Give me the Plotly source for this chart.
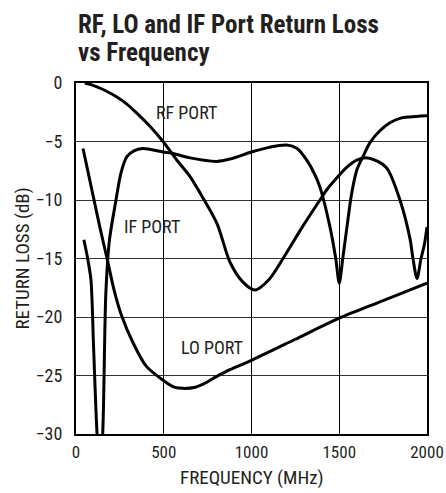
import plotly.graph_objects as go

# ---- data ----
rf_freq = [50, 97, 160, 233, 290, 348, 421, 496, 575, 650, 707, 803, 877, 950, 1020,
           1100, 1180, 1290, 1390, 1430, 1544, 1600, 1658, 1720, 1772, 1846, 1903,
           1920, 1943, 1966, 1985, 2000]
rf_db = [0.0, -0.2, -0.6, -1.2, -1.8, -2.6, -3.7, -5.0, -6.6, -8.0, -9.4, -12.0, -15.3,
         -17.0, -17.7, -16.8, -15.0, -12.3, -10.0, -9.1, -7.2, -6.6, -6.4, -6.7, -7.3,
         -10.0, -13.3, -15.0, -16.7, -15.0, -13.8, -12.3]

if_freq = [45, 65, 85, 100, 120, 136, 152, 170, 190, 228, 256, 290, 330, 380, 496, 547,
           650, 803, 877, 1000, 1100, 1200, 1260, 1315, 1360, 1390, 1447, 1480, 1500,
           1520, 1544, 1570, 1601, 1635, 1675, 1730, 1789, 1850, 1903, 2000]
if_db = [-13.4, -14.9, -16.8, -22.5, -30.0, -33.0, -30.0, -18.0, -13.5, -10.0, -7.7,
         -6.3, -5.8, -5.6, -5.9, -6.0, -6.4, -6.7, -6.5, -5.9, -5.5, -5.3, -5.6, -6.6,
         -7.8, -8.9, -12.3, -15.0, -17.1, -15.0, -12.3, -9.5, -7.4, -6.3, -5.1, -4.1,
         -3.4, -3.0, -2.9, -2.8]

lo_freq = [40, 70, 107, 140, 177, 217, 260, 325, 400, 496, 560, 610, 680, 730, 800, 877,
           1000, 1250, 1500, 1750, 2000]
lo_db = [-5.6, -7.7, -10.3, -12.6, -15.0, -17.7, -19.9, -22.2, -24.2, -25.4, -26.0,
         -26.1, -26.0, -25.7, -25.1, -24.5, -23.7, -21.9, -20.1, -18.6, -17.1]

x_ticks = [0, 500, 1000, 1500, 2000]
y_ticks = [0, -5, -10, -15, -20, -25, -30]

labels = ["RF PORT", "IF PORT", "LO PORT"]
label_x = [632, 433, 775]
label_y = [-2.5, -12.3, -22.6]

title_lines = ["RF, LO and IF Port Return Loss", "vs Frequency"]
x_title = "FREQUENCY (MHz)"
y_title = "RETURN LOSS (dB)"

FONT = "Liberation Sans Narrow, Arial Narrow, Roboto Condensed, Liberation Sans, sans-serif"
INK = "#231f20"

fig = go.Figure()
for xs, ys in [(rf_freq, rf_db), (if_freq, if_db), (lo_freq, lo_db)]:
    fig.add_trace(go.Scatter(x=xs, y=ys, mode="lines",
                             line=dict(color="black", width=3, shape="spline", smoothing=0.8),
                             showlegend=False, hoverinfo="skip"))

for t, x, y in zip(labels, label_x, label_y):
    fig.add_annotation(x=x, y=y, text=t, showarrow=False,
                       font=dict(family=FONT, size=18, color=INK))

# chart title (two lines, left aligned)
fig.add_annotation(xref="paper", yref="paper", x=0.0, y=1.166, xanchor="left",
                   yanchor="middle", text="<b>%s</b>" % title_lines[0], showarrow=False,
                   font=dict(family=FONT, size=25, color=INK))
fig.add_annotation(xref="paper", yref="paper", x=0.0, y=1.086, xanchor="left",
                   yanchor="middle", text="<b>%s</b>" % title_lines[1], showarrow=False,
                   font=dict(family=FONT, size=25, color=INK))

# axis titles
fig.add_annotation(xref="paper", yref="paper", x=0.5, y=-0.125, xanchor="center",
                   yanchor="middle", text=x_title, showarrow=False, borderpad=0,
                   font=dict(family=FONT, size=19, color=INK))
fig.add_annotation(xref="paper", yref="paper", x=-0.151, y=0.5, xanchor="center",
                   yanchor="middle", text=y_title, showarrow=False, textangle=-90,
                   font=dict(family=FONT, size=19, color=INK))

fig.update_layout(
    width=446, height=493, autosize=False,
    margin=dict(l=76, r=19, t=83, b=59, autoexpand=False),
    paper_bgcolor="white", plot_bgcolor="white",
    font=dict(family=FONT, size=18, color=INK),
    showlegend=False,
)
fig.update_xaxes(range=[0, 2000], tickvals=x_ticks, ticks="", showgrid=True,
                 gridcolor="black", gridwidth=1, showline=True, linecolor="black",
                 linewidth=2, mirror=True, zeroline=False, ticklabelstandoff=2,
                 tickfont=dict(size=17), automargin=False)
fig.update_yaxes(range=[-30, 0], tickvals=y_ticks, ticks="", showgrid=True,
                 gridcolor="#333333", gridwidth=1, showline=True, linecolor="black",
                 linewidth=2, mirror=True, zeroline=False, ticklabelstandoff=8,
                 tickfont=dict(size=18), automargin=False)

fig.write_html("out.html", config={"displayModeBar": False},
               post_script="document.body.style.margin='0px';")
